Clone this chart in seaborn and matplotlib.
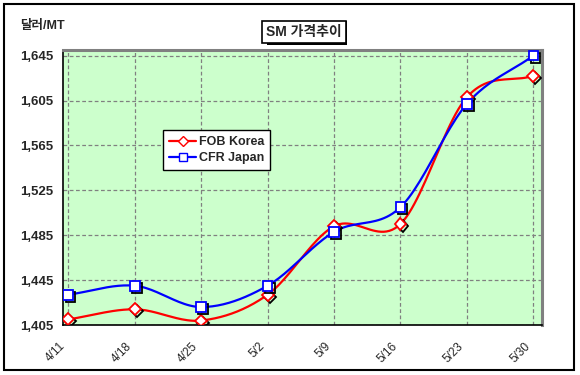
import numpy as np
import pandas as pd
import matplotlib
matplotlib.use("Agg")
import matplotlib.pyplot as plt
import matplotlib.patheffects as pe
import matplotlib.transforms as mtrans
from matplotlib.patches import Rectangle
from matplotlib.lines import Line2D
import seaborn as sns

dates = ["4/11", "4/18", "4/25", "5/2", "5/9", "5/16", "5/23", "5/30"]
fob_korea = [1410, 1419, 1409, 1432, 1493, 1495, 1608, 1627]
cfr_japan = [1432, 1440, 1421, 1440, 1488, 1510, 1602, 1645]
y_ticks = [1405, 1445, 1485, 1525, 1565, 1605, 1645]

sns.set_style("white")
plt.rcParams['font.family'] = ['Liberation Sans', 'Noto Sans CJK KR', 'DejaVu Sans']


def smooth(y, n=24):
    """Catmull-Rom curve through the data points (Excel-like smoothed line)."""
    y = np.asarray(y, float)
    x = np.arange(len(y), dtype=float)
    P = np.column_stack([x, y])
    P = np.vstack([P[0] - (P[1] - P[0]), P, P[-1] + (P[-1] - P[-2])])
    out = []
    for i in range(1, len(P) - 2):
        p0, p1, p2, p3 = P[i - 1], P[i], P[i + 1], P[i + 2]
        t = np.linspace(0, 1, n, endpoint=(i == len(P) - 3))[:, None]
        seg = 0.5 * ((2 * p1) + (-p0 + p2) * t + (2 * p0 - 5 * p1 + 4 * p2 - p3) * t ** 2
                     + (-p0 + 3 * p1 - 3 * p2 + p3) * t ** 3)
        out.append(seg)
    out = np.vstack(out)
    return out[:, 0], out[:, 1]


fig = plt.figure(figsize=(5.8, 3.75), dpi=100)
fig.patch.set_facecolor("white")
fig.add_artist(Rectangle((4 / 580, 5 / 375), 570 / 580, 366 / 375, transform=fig.transFigure,
                         fill=False, edgecolor="black", linewidth=1.5))

ax = fig.add_axes([63 / 580, 1 - 325 / 375, 479 / 580, 275 / 375])
ax.set_facecolor("#CCFFCC")

series = [("FOB Korea", fob_korea, "#FF0000", "D", 6),
          ("CFR Japan", cfr_japan, "#0000FF", "s", 7)]
xpos = np.arange(len(dates))
shadow = [pe.SimpleLineShadow(offset=(1.5, -1.5), shadow_color="black", alpha=1.0), pe.Normal()]
for name, vals, col, mk, ms in series:
    sx, sy = smooth(vals)
    df = pd.DataFrame({"x": sx, "y": sy})
    sns.lineplot(data=df, x="x", y="y", ax=ax, color=col, linewidth=1.6, sort=False,
                 estimator=None, zorder=3)
    ax.plot(xpos, vals, linestyle="none", marker=mk, markersize=ms, markerfacecolor="white",
            markeredgecolor=col, markeredgewidth=1.3, zorder=4, path_effects=shadow)

handles = [Line2D([], [], color=c, marker=m, markersize=s - 1, markerfacecolor="white",
                  markeredgecolor=c, linewidth=1.6) for _, _, c, m, s in series]
leg = ax.legend(handles, [s[0] for s in series], loc="upper left",
                bbox_to_anchor=((157 - 63) / 479, (325 - 124) / 275), frameon=True,
                fancybox=False, edgecolor="black", framealpha=1, handlelength=2.2,
                handletextpad=0.2, borderpad=0.45, labelspacing=0.35,
                prop={"size": 9, "weight": "bold"})
leg.get_frame().set_linewidth(1.0)

ax.set_xlim(-0.08, 7.13)
ax.set_ylim(1405, 1650)
ax.set_xticks(xpos)
ax.set_xticklabels(dates, rotation=45, ha="right", va="center", rotation_mode="anchor",
                   fontsize=8.5)
ax.set_yticks(y_ticks)
ax.set_yticklabels([f"{v:,}" for v in y_ticks], fontsize=9.5, fontweight="bold")
ax.tick_params(axis="both", direction="out", length=4, width=1, color="black", pad=3)
ax.tick_params(axis="x", pad=10)
shift = mtrans.ScaledTranslation(-5 / 100, 0, fig.dpi_scale_trans)
for lbl in ax.get_xticklabels():
    lbl.set_transform(lbl.get_transform() + shift)
ax.grid(True, linestyle=(0, (3, 2)), color="#808080", linewidth=0.9)
ax.set_axisbelow(True)
for s in ["left", "bottom"]:
    ax.spines[s].set_color("black")
    ax.spines[s].set_linewidth(1.2)
for s in ["top", "right"]:
    ax.spines[s].set_color("#808080")
    ax.spines[s].set_linewidth(2.2)
ax.set_xlabel("")
ax.set_ylabel("")

fig.text(20 / 580, 1 - 26 / 375, "달러/MT", fontsize=9, fontweight="bold", va="center", ha="left")
fig.text(304 / 580, 1 - 32 / 375, "SM 가격추이", fontsize=10, fontweight="bold",
         va="center", ha="center",
         bbox=dict(boxstyle="square,pad=0.3", facecolor="white", edgecolor="black", linewidth=1.2),
         )
fig.add_artist(Rectangle((267 / 580, 1 - 45 / 375), 80 / 580, 24 / 375, transform=fig.transFigure,
                         facecolor="black", edgecolor="none", zorder=0.5))

fig.savefig("out.png", dpi=100)
